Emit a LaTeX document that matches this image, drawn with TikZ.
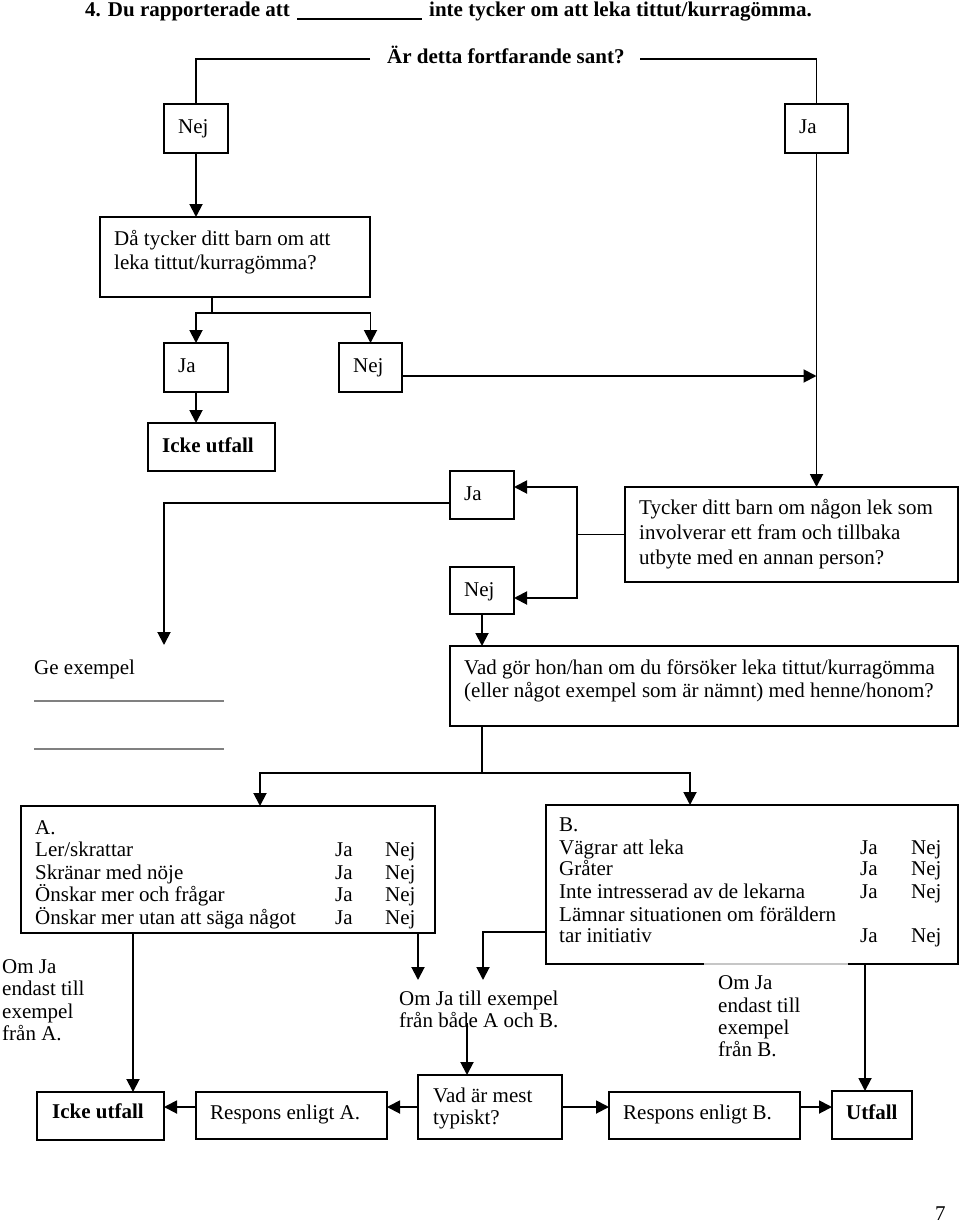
\documentclass[tikz,border=0pt]{standalone}
\usepackage{fontspec}
\setmainfont{Liberation Serif}
\usetikzlibrary{arrows.meta}
\newcommand\mkbox[5]{\node[box, minimum width={#4-#2}, minimum height={#5-#3}] (#1) at ({(#2+#4)/2},{(#3+#5)/2}) {};}
\tikzset{
  box/.style={draw, line width=2pt, inner sep=0pt, outer sep=0pt},
  ln/.style={line width=1.9pt},
  arr/.style={line width=1.9pt, -{Triangle[length=13pt,width=13pt]}},
  txt/.style={inner sep=0pt, anchor=base west},
  every node/.style={font=\fontsize{21}{23}\selectfont},
  bold/.style={font=\fontsize{21}{23}\selectfont\bfseries},
}
\begin{document}
\begin{tikzpicture}[x=1pt,y=-1pt]
\useasboundingbox (0,0) rectangle (960,1228);
% title
\node[txt,bold] (t1) at (85,17) {4. Du rapporterade att};
\draw[line width=1.3pt] (297,19) -- (422,19);
\node[txt,bold] (t2) at (429,17) {inte tycker om att leka tittut/kurragömma.};
\node[txt,bold] (q0) at (387,64) {Är detta fortfarande sant?};
% boxes
\mkbox{nej1}{164}{104}{228}{153}
\mkbox{ja1}{785}{104}{848}{153}
\mkbox{da}{100}{217}{370}{297}
\mkbox{ja2}{164}{343}{228}{392}
\mkbox{nej2}{339}{343}{402}{392}
\mkbox{icke1}{148}{423}{275}{471}
\mkbox{ja3}{450}{471}{514}{519}
\mkbox{nej3}{450}{567}{514}{614}
\mkbox{tycker}{625}{487}{958}{582}
\mkbox{vad}{450}{646}{958}{726}
\mkbox{A}{21}{806}{435}{933}
\mkbox{B}{546}{805}{958}{964}
\draw[gray!45, line width=2pt] (704,964) -- (848,964);
\mkbox{icke2}{37}{1092}{164}{1140}
\mkbox{respA}{196}{1092}{387}{1139}
\mkbox{mest}{418}{1075}{562}{1139}
\mkbox{respB}{609}{1092}{800}{1139}
\mkbox{utfall}{832}{1091}{912}{1139}
% box texts
\node[txt] (nej1t) at (178,133) {Nej};
\node[txt] (ja1t) at (799,133) {Ja};
\node[txt] (ja2t) at (178,372) {Ja};
\node[txt] (nej2t) at (353,372) {Nej};
\node[txt,bold] (icke1t) at (162,452) {Icke utfall};
\node[txt] (ja3t) at (464,500) {Ja};
\node[txt] (nej3t) at (464,596) {Nej};
\node[txt] (da1) at (114,245) {Då tycker ditt barn om att};
\node[txt] (da2) at (114,269) {leka tittut/kurragömma?};
\node[txt] (ty1) at (639,514) {Tycker ditt barn om någon lek som};
\node[txt] (ty2) at (639,539) {involverar ett fram och tillbaka};
\node[txt] (ty3) at (639,564) {utbyte med en annan person?};
\node[txt] (vd1) at (464,674) {Vad gör hon/han om du försöker leka tittut/kurragömma};
\node[txt] (vd2) at (464,697) {(eller något exempel som är nämnt) med henne/honom?};
\node[txt] (ge1) at (34,674) {Ge exempel};
\draw[gray, line width=1.2pt] (34,701) -- (224,701);
\draw[gray, line width=1.2pt] (34,749) -- (224,749);
% A table
\node[txt] (a0) at (35,834) {A.};
\node[txt] (a1) at (35,856) {Ler/skrattar};
\node[txt] (a1j) at (335,856) {Ja};
\node[txt] (a1n) at (385,856) {Nej};
\node[txt] (a2) at (35,879) {Skränar med nöje};
\node[txt] (a2j) at (335,879) {Ja};
\node[txt] (a2n) at (385,879) {Nej};
\node[txt] (a3) at (35,901) {Önskar mer och frågar};
\node[txt] (a3j) at (335,901) {Ja};
\node[txt] (a3n) at (385,901) {Nej};
\node[txt] (a4) at (35,924) {Önskar mer utan att säga något};
\node[txt] (a4j) at (335,924) {Ja};
\node[txt] (a4n) at (385,924) {Nej};
% B table
\node[txt] (b0) at (559,831) {B.};
\node[txt] (b1) at (559,854) {Vägrar att leka};
\node[txt] (b1j) at (860,854) {Ja};
\node[txt] (b1n) at (911,854) {Nej};
\node[txt] (b2) at (559,875) {Gråter};
\node[txt] (b2j) at (860,875) {Ja};
\node[txt] (b2n) at (911,875) {Nej};
\node[txt] (b3) at (559,898) {Inte intresserad av de lekarna};
\node[txt] (b3j) at (860,898) {Ja};
\node[txt] (b3n) at (911,898) {Nej};
\node[txt] (b4) at (559,921) {Lämnar situationen om föräldern};
\node[txt] (b5) at (559,942) {tar initiativ};
\node[txt] (b5j) at (860,942) {Ja};
\node[txt] (b5n) at (911,942) {Nej};
% side notes
\node[txt] (oa1) at (2,973) {Om Ja};
\node[txt] (oa2) at (2,995) {endast till};
\node[txt] (oa3) at (2,1018) {exempel};
\node[txt] (oa4) at (2,1040) {från A.};
\node[txt] (oab1) at (399,1005) {Om Ja till exempel};
\node[txt] (oab2) at (399,1027) {från både A och B.};
\node[txt] (ob1) at (718,989) {Om Ja};
\node[txt] (ob2) at (718,1012) {endast till};
\node[txt] (ob3) at (718,1034) {exempel};
\node[txt] (ob4) at (718,1056) {från B.};
\node[txt,bold] (icke2t) at (52,1118) {Icke utfall};
\node[txt] (rat) at (210,1119) {Respons enligt A.};
\node[txt] (m1) at (433,1102) {Vad är mest};
\node[txt] (m2) at (433,1124) {typiskt?};
\node[txt] (rbt) at (623,1119) {Respons enligt B.};
\node[txt,bold] (utft) at (846,1119) {Utfall};
\node[txt] (pg) at (935,1220) {7};
% connectors
\coordinate (cL) at (370,59);
\coordinate (cR) at (640,59);
\draw[ln] (cL) -| (nej1.north);
\draw[ln] (cR) -| (ja1.north);
\draw[arr] (nej1.south) -- (nej1.south |- da.north);
\draw[arr] (ja1.south) -- (ja1.south |- tycker.north);
\coordinate (s1) at (212,313);
\draw[ln] (s1 |- da.south) -- (s1);
\draw[arr] (s1) -| (ja2.north);
\draw[arr] (s1) -| (nej2.north);
\draw[arr] ([yshift=-8.5pt]nej2.east) -- ([yshift=-8.5pt]nej2.east -| ja1.south);
\draw[arr] (ja2.south) -- (ja2.south |- icke1.north);
\coordinate (s2) at (577,534.5);
\draw[ln] (tycker.west) -- (s2);
\draw[arr] (s2) |- ([yshift=8pt]ja3.east);
\draw[arr] (s2) |- ([yshift=-7.5pt]nej3.east);
\coordinate (ge) at (164,645);
\draw[arr] ([yshift=-8pt]ja3.west) -| (ge);
\draw[arr] (nej3.south) -- (nej3.south |- vad.north);
\coordinate (s3) at (482,773);
\draw[ln] (s3 |- vad.south) -- (s3);
\coordinate (aIn) at (260,806);
\coordinate (bIn) at (690,805);
\draw[arr] (s3) -| (aIn);
\draw[arr] (s3) -| (bIn);
\coordinate (pA) at (418,980);
\coordinate (pB) at (483,980);
\draw[arr] (pA |- A.south) -- (pA);
\draw[arr] ([yshift=32pt]B.south west) -| (pB);
\coordinate (xA) at (133,0);
\coordinate (xB) at (865,0);
\draw[arr] (xA |- A.south) -- (xA |- icke2.north);
\draw[arr] (xB |- B.south) -- (xB |- utfall.north);
\coordinate (m0) at (467,1023);
\draw[arr] (m0) -- (m0 |- mest.north);
\draw[arr] (mest.west) -- (mest.west -| respA.east);
\draw[arr] (mest.west -| respA.west) -- (mest.west -| icke2.east);
\draw[arr] (mest.east) -- (mest.east -| respB.west);
\draw[arr] (mest.east -| respB.east) -- (mest.east -| utfall.west);
\end{tikzpicture}
\end{document}
